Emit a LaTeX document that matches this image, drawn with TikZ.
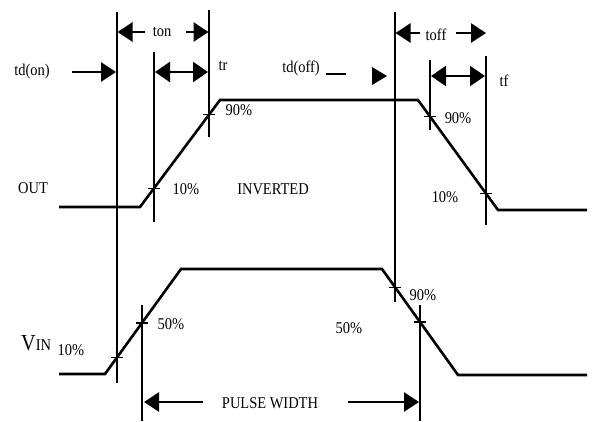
\documentclass[tikz,border=0pt]{standalone}
\usepackage{fontspec}
\setmainfont[FakeStretch=0.88]{Liberation Serif}
\usetikzlibrary{arrows.meta}
\begin{document}
\begin{tikzpicture}[x=1bp,y=-1bp,
  wave/.style={line width=2.6bp, line join=miter},
  guide/.style={line width=1.2bp},
  tickm/.style={line width=1.2bp},
  dimarrow/.style={line width=2.6bp, -{Triangle[length=15bp,width=19bp]}},
  dimboth/.style={line width=2.2bp, {Triangle[length=15bp,width=20bp]}-{Triangle[length=15bp,width=20bp]}},
  lbl/.style={font=\fontsize{16.5}{18}\selectfont, inner sep=0pt}]
\useasboundingbox (0,0) rectangle (596,421);

% waveforms
\coordinate (o1) at (59,207);
\coordinate (o2) at (140,207);
\coordinate (o3) at (220,100);
\coordinate (o4) at (418,100);
\coordinate (o5) at (498,210);
\coordinate (o6) at (587,210);
\draw[wave] (o1) -- (o2) -- (o3) -- (o4) -- (o5) -- (o6);

\coordinate (i1) at (59,374);
\coordinate (i2) at (105,374);
\coordinate (i3) at (181,269);
\coordinate (i4) at (382,269);
\coordinate (i5) at (458,375);
\coordinate (i6) at (587,375);
\draw[wave] (i1) -- (i2) -- (i3) -- (i4) -- (i5) -- (i6);

% guide lines
\coordinate (v1t) at (117,12);  \coordinate (v1b) at (117,383);
\coordinate (v2t) at (154,52);  \coordinate (v2b) at (154,222);
\coordinate (v3t) at (209,10);  \coordinate (v3b) at (209,137);
\coordinate (v4t) at (395,12);  \coordinate (v4b) at (395,302);
\coordinate (v5t) at (430,60);  \coordinate (v5b) at (430,130);
\coordinate (v6t) at (486,56);  \coordinate (v6b) at (486,225);
\coordinate (v7t) at (420,305); \coordinate (v7b) at (420,421);
\coordinate (v8t) at (142,305); \coordinate (v8b) at (142,421);
\foreach \v in {1,...,8} {\draw[guide] (v\v t) -- (v\v b);}

% ticks
\foreach \x/\y in {154/188.3, 209/114.7, 430/116.5, 486/193.5, 117/357.4, 142/322.9, 395/287.1, 420/322}
  {\draw[tickm] (\x-6,\y) -- (\x+6,\y);}

% dimension arrows
\coordinate (tonL) at (145,32);  \coordinate (tonLt) at (117.5,32);
\coordinate (tonR) at (186,32);  \coordinate (tonRt) at (208.5,32);
\draw[dimarrow] (tonL) -- (tonLt);
\draw[dimarrow] (tonR) -- (tonRt);

\coordinate (tdonS) at (72,72); \coordinate (tdonE) at (116,72);
\draw[dimarrow] (tdonS) -- (tdonE);

\coordinate (trL) at (155,72); \coordinate (trR) at (208,72);
\draw[dimboth] (trL) -- (trR);

\coordinate (toffL) at (420,33); \coordinate (toffLt) at (395.5,33);
\coordinate (toffR) at (456,33); \coordinate (toffRt) at (486,33);
\draw[dimarrow] (toffL) -- (toffLt);
\draw[dimarrow] (toffR) -- (toffRt);

\coordinate (tfL) at (431,76); \coordinate (tfR) at (485,76);
\draw[dimboth] (tfL) -- (tfR);

\coordinate (tdoffA) at (326,74); \coordinate (tdoffB) at (346,74);
\draw[line width=2bp] (tdoffA) -- (tdoffB);
\fill (372,67) -- (387,76) -- (372,85) -- cycle;

\coordinate (pwL) at (203,402); \coordinate (pwLt) at (144,402);
\coordinate (pwR) at (348,402); \coordinate (pwRt) at (419,402);
\draw[dimarrow] (pwL) -- (pwLt);
\draw[dimarrow] (pwR) -- (pwRt);

% labels
\node[lbl] (ton) at (162,32) {ton};
\node[lbl] (tdon) at (32,72) {td(on)};
\node[lbl] (tr) at (223,66) {tr};
\node[lbl] (tdoff) at (301,68) {td(off)};
\node[lbl] (toff) at (436,35) {toff};
\node[lbl] (tf) at (504,81) {tf};
\node[lbl] (out) at (33,188) {OUT};
\node[lbl] (p10a) at (186,189) {10\%};
\node[lbl] (inv) at (273,189) {INVERTED};
\node[lbl] (p90a) at (239,110) {90\%};
\node[lbl] (p90b) at (458,118) {90\%};
\node[lbl] (p10b) at (445,197) {10\%};
\node[lbl, anchor=base west] (vin) at (21,350) {\fontsize{23}{24}\selectfont V\fontsize{16.5}{18}\selectfont IN};
\node[lbl] (p10c) at (71,350) {10\%};
\node[lbl] (p50a) at (171,324) {50\%};
\node[lbl] (p90c) at (423,295) {90\%};
\node[lbl] (p50b) at (349,328) {50\%};
\node[lbl] (pw) at (270,403) {PULSE WIDTH};
\end{tikzpicture}
\end{document}
